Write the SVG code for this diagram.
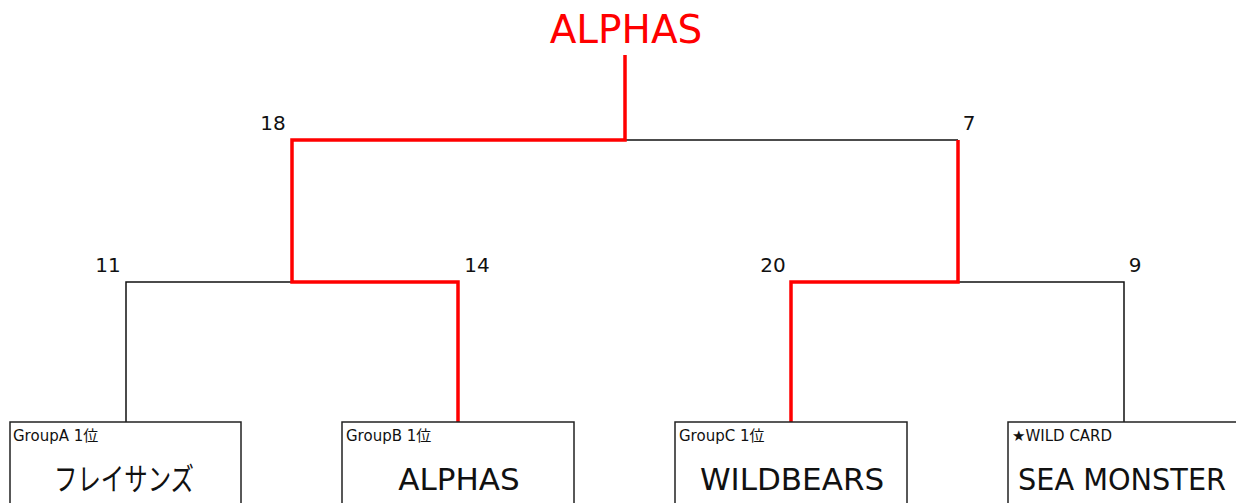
<svg xmlns="http://www.w3.org/2000/svg" width="1236" height="503" viewBox="0 0 1236 503">
<style>
.box{fill:#fff;stroke:#222;stroke-width:1.5}
.grp{font-family:"DejaVu Sans","Noto Sans CJK JP",sans-serif;font-size:15px;fill:#111}
.name{font-family:"DejaVu Sans","Noto Sans CJK JP",sans-serif;font-size:31px;fill:#111;text-anchor:middle}
.score{font-family:"DejaVu Sans",sans-serif;font-size:20px;fill:#111;text-anchor:middle}
.win{stroke:#ff0000;stroke-width:3.5;fill:none;stroke-linejoin:miter}
.lose{stroke:#111;stroke-width:1.5;fill:none}
</style>
<rect width="1236" height="503" fill="#fff"/>
<g id="connectors">
<path class="lose" d="M126,422 V282 H292"/>
<path class="lose" d="M958,282 H1124 V422"/>
<path class="lose" d="M625,140 H958"/>
<path class="win" d="M458,422 V282 H292 V140 H625 V55"/>
<path class="win" d="M791,422 V282 H958 V140"/>
</g>
<g id="champion">
<text x="626" y="43" font-family="DejaVu Sans,sans-serif" font-size="39" fill="#ff0000" text-anchor="middle">ALPHAS</text>
</g>
<g id="scores">
<text class="score" x="273" y="130">18</text>
<text class="score" x="969" y="130">7</text>
<text class="score" x="108" y="272">11</text>
<text class="score" x="477" y="272">14</text>
<text class="score" x="773" y="272">20</text>
<text class="score" x="1135" y="272">9</text>
</g>
<g id="team1">
<rect class="box" x="10" y="422" width="231" height="90"/>
<text class="grp" x="13" y="441">GroupA 1位</text>
<text class="name" x="124" y="490" textLength="140" lengthAdjust="spacingAndGlyphs">フレイサンズ</text>
</g>
<g id="team2">
<rect class="box" x="342" y="422" width="232" height="90"/>
<text class="grp" x="346" y="441">GroupB 1位</text>
<text class="name" x="459" y="490">ALPHAS</text>
</g>
<g id="team3">
<rect class="box" x="675" y="422" width="232" height="90"/>
<text class="grp" x="679" y="441">GroupC 1位</text>
<text class="name" x="792" y="490">WILDBEARS</text>
</g>
<g id="team4">
<rect class="box" x="1008" y="422" width="240" height="90"/>
<text class="grp" x="1012" y="441">★WILD CARD</text>
<text class="name" x="1018" y="490" style="text-anchor:start" textLength="208" lengthAdjust="spacingAndGlyphs">SEA MONSTER</text>
</g>
</svg>
